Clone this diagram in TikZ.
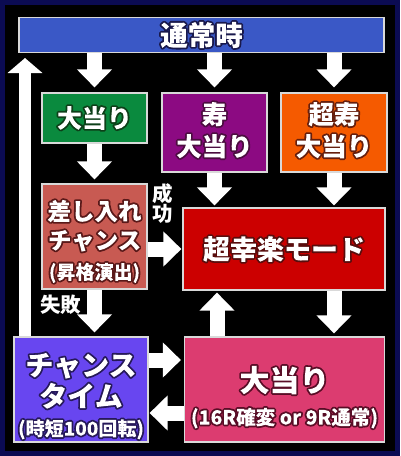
\documentclass[tikz,border=0pt]{standalone}
\usepackage{fontspec}
\setmainfont{Noto Sans CJK JP}
\usetikzlibrary{arrows.meta}
\definecolor{frame}{HTML}{0B0B52}
\definecolor{topblue}{HTML}{3A58C6}
\definecolor{hitgreen}{HTML}{0A8A3E}
\definecolor{kotopurple}{HTML}{8C0A82}
\definecolor{chokotoorange}{HTML}{F55A00}
\definecolor{chancesalmon}{HTML}{C85A52}
\definecolor{superred}{HTML}{CC0000}
\definecolor{ctimeviolet}{HTML}{6846F0}
\definecolor{bighitpink}{HTML}{DC3C70}
\newcommand\pushdown[1]{\rule{0pt}{#1}}
\newcommand\pushup[1]{\rule[-#1]{0pt}{0pt}}
\tikzset{
	box/.style 2 args={rectangle,draw=white!85!black,line width=1.2pt,fill=#1,align=center,inner sep=0pt,name=#2,
		execute at end node={\special{pdf:literal direct 1 g -2000 -2000 4000 4000 re f Q}}},
	big/.style n args={3}{font=\bfseries\fontsize{#1}{#2}\selectfont,
		execute at begin node={\special{pdf:literal direct q 5 Tr 3.6 w 1 j #3 RG}}},
	barrow/.style={draw=white,line width=15pt,-{Triangle[width=34pt,length=18pt]}},
	tag/.style={text=white,align=center,font=\bfseries\fontsize{20.5}{20}\selectfont}
}
\begin{document}
\begin{tikzpicture}[x=1pt,y=-1pt]
	\fill [frame] (0,0) rectangle (400,456);
	\fill [black] (5,5) rectangle (395,451);

	\node [box={topblue}{normal},minimum width=365pt,minimum height=35pt,big={27.5}{30}{0.1 0.1 0.3}] at (201.5,35) {通常時};
	\node [box={hitgreen}{hit},minimum width=105pt,minimum height=50pt,big={25}{30}{0.05 0.25 0.1}] at (94.5,118) {大当り};
	\node [box={kotopurple}{koto},minimum width=105pt,minimum height=79pt,big={25.5}{32}{0.3 0.05 0.25}] at (214.5,132.5) {寿\\大当り\pushup{7pt}};
	\node [box={chokotoorange}{chokoto},minimum width=106pt,minimum height=79pt,big={25.5}{32}{0.4 0.12 0.05}] at (334,132.5) {超寿\\大当り\pushup{7pt}};
	\node [box={chancesalmon}{chance},minimum width=105pt,minimum height=105pt,big={23.5}{29}{0.35 0.1 0.1}] at (94.5,236.5) {\pushdown{30pt}差し入れ\\チャンス\\[1pt]{\fontsize{19}{19}\selectfont (昇格演出)}};
	\node [box={superred}{super},minimum width=202pt,minimum height=82pt,big={27}{30}{0.35 0.05 0.05}] at (284,249) {超幸楽モード};
	\node [box={ctimeviolet}{ctime},minimum width=134pt,minimum height=105pt,big={28}{31}{0.15 0.1 0.35}] at (81,389.5) {\pushdown{36pt}チャンス\\タイム\\[-2pt]{\fontsize{19}{19}\selectfont (時短100回転)}};
	\node [box={bighitpink}{bighit},minimum width=200pt,minimum height=105pt,big={30}{33}{0.35 0.05 0.15}] at (284.5,389.5) {\pushdown{41pt}大当り\\[0pt]{\fontsize{19.5}{19.5}\selectfont (16R確変 or 9R通常)}};

	\coordinate (ret) at (25,58);

	\draw [barrow,shorten >=5pt] (normal.south -| hit) -- (hit.north);
	\draw [barrow,shorten >=5pt] (normal.south -| koto) -- (koto.north);
	\draw [barrow,shorten >=5pt] (normal.south -| chokoto) -- (chokoto.north);
	\draw [barrow,shorten >=4pt] (hit.south) -- (chance.north);
	\draw [barrow,shorten >=2pt] (koto.south) -- (koto.south |- super.north);
	\draw [barrow,shorten >=2pt] (chokoto.south) -- (chokoto.south |- super.north);
	\draw [barrow,shorten >=1pt] (chance.east |- super) -- (super.west);
	\draw [barrow,shorten >=4pt] (chance.south) -- (ctime.north -| chance);
	\draw [barrow,shorten >=3pt] ([yshift=29.5pt]ctime.east) -- ([yshift=29.5pt]ctime.east -| bighit.west);
	\draw [barrow,shorten >=1pt] ([yshift=-23.5pt]ctime.east -| bighit.west) -- ([yshift=-23.5pt]ctime.east);
	\draw [barrow,shorten >=2pt] (bighit.north -| 217,0) -- (super.south -| 217,0);
	\draw [barrow,shorten >=3pt] (super.south -| chokoto) -- (bighit.north -| chokoto);
	\draw [draw=white,line width=12pt,-{Triangle[width=34pt,length=15pt]}] (ctime.north -| ret) -- (ret);

	\node [tag] (ok) at (163,204) {成\\功};
	\node [tag] (ng) at (60.5,305) {失敗};
\end{tikzpicture}
\end{document}
